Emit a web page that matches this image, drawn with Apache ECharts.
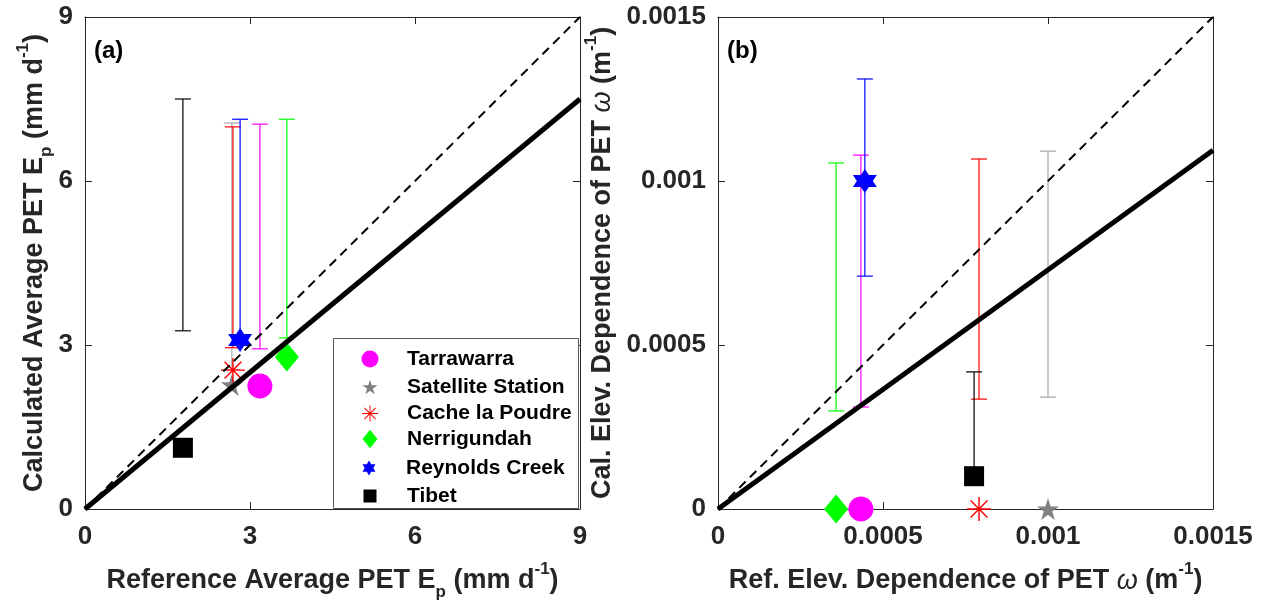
<!DOCTYPE html>
<html>
<head>
<meta charset="utf-8">
<script src="https://cdn.jsdelivr.net/npm/echarts@6/dist/echarts.min.js"></script>
<style>
html,body{margin:0;padding:0;background:#fff;}
#chart{width:1265px;height:606px;}
</style>
</head>
<body>
<div id="chart"></div>
<script>
// ---------------- data ----------------
const sites = ['Tarrawarra', 'Satellite Station', 'Cache la Poudre', 'Nerrigundah', 'Reynolds Creek', 'Tibet'];

// panel (a): average PET Ep (mm/d)
const refEp     = [3.18, 2.67, 2.69, 3.67, 2.82, 1.78];
const calEp     = [2.25, 2.27, 2.54, 2.78, 3.09, 1.12];
const calEpLow  = [2.93, 2.55, 2.95, 3.13, 3.09, 3.26];
const calEpHigh = [7.04, 7.06, 6.99, 7.13, 7.13, 7.50];

// panel (b): elevation dependence of PET omega (1/m)
const refW     = [0.000433, 0.001000, 0.000791, 0.000358, 0.000445, 0.000776];
const calW     = [0, 0, 0, 0, 0.001000, 0.000100];
const calWLow  = [0.000311, 0.000341, 0.000335, 0.000299, 0.000710, 0.000100];
const calWHigh = [0.001079, 0.001091, 0.001067, 0.001055, 0.001311, 0.000418];

// reference lines
const oneToOneA = [[0, 0], [9, 9]];
const fitA      = [[0, 0], [9, 7.5]];
const oneToOneB = [[0, 0], [0.0015, 0.0015]];
const fitB      = [[0, 0], [0.0015, 0.001094]];

// axes
const axisA = {min: 0, max: 9, interval: 3};
const axisB = {min: 0, max: 0.0015, interval: 0.0005};

// ---------------- styles ----------------
const siteColors = ['#ff00ff', '#808080', '#ff0000', '#00ff00', '#0000ff', '#000000'];
const barColors  = ['#ff00ff', '#a6a6a6', '#ff0000', '#00ff00', '#0000ff', '#000000'];
const STAR = 'path://M50,0 L61.2,34.5 L97.6,34.5 L68.2,55.9 L79.4,90.5 L50,69.1 L20.6,90.5 L31.8,55.9 L2.4,34.5 L38.8,34.5 Z';
const HEXA = 'path://M50,0 L93.3,75 L6.7,75 Z M50,100 L6.7,25 L93.3,25 Z';
const ASTER = 'path://M0,47 L100,47 L100,53 L0,53 Z M47,0 L53,0 L53,100 L47,100 Z M12.9,17.1 L17.1,12.9 L87.1,82.9 L82.9,87.1 Z M82.9,12.9 L87.1,17.1 L17.1,87.1 L12.9,82.9 Z';
const DIAM = 'path://M41,0 L82,50 L41,100 L0,50 Z';
const SQR = 'path://M0,0 L100,0 L100,100 L0,100 Z';
const siteSymbols = ['circle', STAR, ASTER, 'diamond', HEXA, 'rect'];
const legendIcons = ['circle', STAR, ASTER, DIAM, HEXA, SQR];
const legendIconSizes = [[17, 17], [15, 15], [16, 16], [15, 19], [15, 15], [13, 13]];
const siteSizes = [[25, 25], [22, 22], [24, 24], [24, 29], [24, 24], [20, 20]];
const FONT = '"Liberation Sans", Arial, Helvetica, sans-serif';
const AXC = '#262626';

const nameStyle = {
  fontFamily: FONT, fontSize: 27, fontWeight: 'bold', color: AXC, lineHeight: 40,
  rich: {
    sub: {fontFamily: FONT, fontSize: 17, fontWeight: 'bold', color: AXC, verticalAlign: 'bottom', lineHeight: 14},
    sup: {fontFamily: FONT, fontSize: 17, fontWeight: 'bold', color: AXC, verticalAlign: 'top', lineHeight: 14},
    w:   {fontFamily: FONT, fontSize: 27, fontStyle: 'italic', fontWeight: 'normal', color: AXC}
  }
};

function mainAxis(gridIndex, position, range, name, nameGap, isY) {
  const ax = {
    type: 'value', gridIndex: gridIndex, position: position,
    min: range.min, max: range.max, interval: range.interval,
    name: name, nameLocation: 'middle', nameGap: nameGap, nameTextStyle: nameStyle,
    axisLine: {show: true, onZero: false, lineStyle: {color: AXC, width: 1}},
    axisTick: {show: true, inside: true, length: 7, lineStyle: {color: AXC}},
    axisLabel: {show: true, margin: isY ? 12 : 15, fontFamily: FONT, fontSize: 26, fontWeight: 'bold', color: AXC,
      formatter: function (v) { return String(+v.toFixed(6)); }},
    splitLine: {show: false}
  };
  if (isY) ax.nameRotate = 90;
  return ax;
}
function mirrorAxis(gridIndex, position, range) {
  return {
    type: 'value', gridIndex: gridIndex, position: position,
    min: range.min, max: range.max, interval: range.interval,
    axisLine: {show: true, onZero: false, lineStyle: {color: AXC, width: 1}},
    axisTick: {show: true, inside: true, length: 7, lineStyle: {color: AXC}},
    axisLabel: {show: false}, splitLine: {show: false}
  };
}

const xAxes = [
  mainAxis(0, 'bottom', axisA, 'Reference Average PET E{sub|p} (mm d{sup|-1})', 52, false),
  mirrorAxis(0, 'top', axisA),
  mainAxis(1, 'bottom', axisB, 'Ref. Elev. Dependence of PET {w|ω} (m{sup|-1})', 52, false),
  mirrorAxis(1, 'top', axisB)
];
const yAxes = [
  mainAxis(0, 'left', axisA, 'Calculated Average PET E{sub|p} (mm d{sup|-1})', 28, true),
  mirrorAxis(0, 'right', axisA),
  mainAxis(1, 'left', axisB, 'Cal. Elev. Dependence of PET {w|ω} (m{sup|-1})', 82, true),
  mirrorAxis(1, 'right', axisB)
];

function errorBarSeries(i, xs, lows, highs, axisIdx) {
  return {
    type: 'custom', name: sites[i], xAxisIndex: axisIdx, yAxisIndex: axisIdx, z: 2,
    itemStyle: {color: barColors[i]},
    encode: {x: 0, y: [1, 2]},
    data: [[xs[i], lows[i], highs[i]]],
    renderItem: function (params, api) {
      const x = api.value(0);
      const p1 = api.coord([x, api.value(1)]);
      const p2 = api.coord([x, api.value(2)]);
      const w = 8;
      const st = {stroke: barColors[i], lineWidth: 1.2};
      return {type: 'group', children: [
        {type: 'line', shape: {x1: p1[0], y1: p1[1], x2: p2[0], y2: p2[1]}, style: st},
        {type: 'line', shape: {x1: p1[0] - w, y1: p1[1], x2: p1[0] + w, y2: p1[1]}, style: st},
        {type: 'line', shape: {x1: p2[0] - w, y1: p2[1], x2: p2[0] + w, y2: p2[1]}, style: st}
      ]};
    }
  };
}
function pointSeries(i, xs, ys, axisIdx) {
  return {
    type: 'scatter', name: sites[i], xAxisIndex: axisIdx, yAxisIndex: axisIdx, z: 3,
    symbol: siteSymbols[i], symbolSize: siteSizes[i], clip: false,
    itemStyle: {color: siteColors[i], opacity: 1},
    emphasis: {disabled: true},
    data: [[xs[i], ys[i]]]
  };
}
function refLine(data, axisIdx, width, dashed) {
  return {
    type: 'line', xAxisIndex: axisIdx, yAxisIndex: axisIdx, z: 4, data: data,
    showSymbol: false, symbol: 'none', silent: true,
    lineStyle: {color: '#000', width: width, type: dashed ? [9, 6] : 'solid'}
  };
}

const series = [];
sites.forEach(function (s, i) {
  series.push(pointSeries(i, refEp, calEp, 0));
  series.push(errorBarSeries(i, refEp, calEpLow, calEpHigh, 0));
  series.push(pointSeries(i, refW, calW, 2));
  series.push(errorBarSeries(i, refW, calWLow, calWHigh, 2));
});
series.push(refLine(oneToOneA, 0, 2, true));
series.push(refLine(fitA, 0, 5, false));
series.push(refLine(oneToOneB, 2, 2, true));
series.push(refLine(fitB, 2, 5, false));

// legend: one separate legend per row so each icon keeps its own size
const legends = sites.map(function (s, i) {
  const sz = legendIconSizes[i];
  const rowCenter = 357 + i * 27;
  return {
    left: 370 - sz[0] / 2, top: rowCenter - sz[1] / 2, orient: 'vertical',
    padding: 0,
    itemWidth: sz[0], itemHeight: sz[1],
    selectedMode: false,
    textStyle: {fontFamily: FONT, fontSize: 21, fontWeight: 'bold', color: '#000',
      padding: [0, 0, 0, 407 - (370 + sz[0] / 2) - 5]},
    data: [{name: s, icon: legendIcons[i], itemStyle: {color: siteColors[i]}}]
  };
});

const option = {
  animation: false,
  backgroundColor: '#fff',
  grid: [
    {left: 85, top: 17, width: 495, height: 492},
    {left: 718, top: 17, width: 495, height: 492}
  ],
  xAxis: xAxes,
  yAxis: yAxes,
  legend: legends,
  graphic: [
    {type: 'rect', left: 333, top: 338, z: 3,
      shape: {width: 245, height: 170}, style: {fill: '#fff', stroke: '#555', lineWidth: 1}},
    {type: 'text', left: 94, top: 39, style: {text: '(a)', font: 'bold 24px ' + FONT, fill: '#000'}},
    {type: 'text', left: 727, top: 39, style: {text: '(b)', font: 'bold 24px ' + FONT, fill: '#000'}}
  ],
  series: series
};

const chart = echarts.init(document.getElementById('chart'), null, {renderer: 'canvas'});
chart.setOption(option);
</script>
</body>
</html>
